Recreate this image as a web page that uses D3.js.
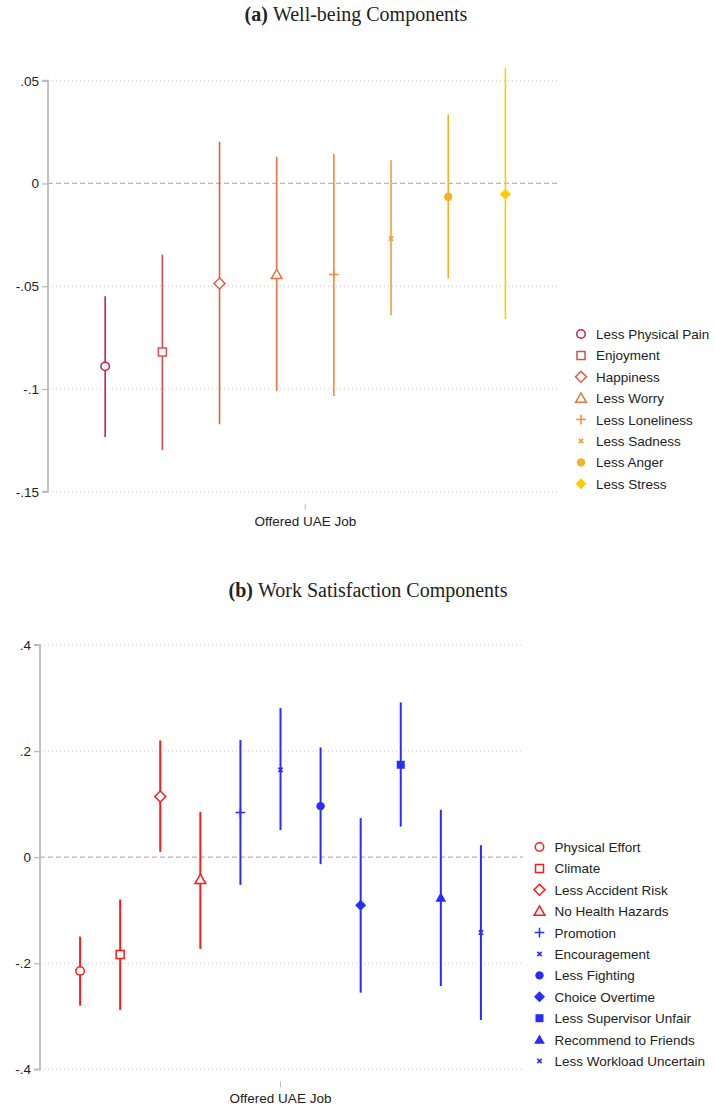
<!DOCTYPE html>
<html>
<head>
<meta charset="utf-8">
<script src="https://cdn.jsdelivr.net/npm/d3@7"></script>
<style>
body { margin: 0; background: #fff; }
svg { display: block; }
.tick-label, .leg, .xlab { font-family: "Liberation Sans", Arial, sans-serif; fill: #222; }
.title { font-family: "Liberation Serif", "DejaVu Serif", serif; fill: #222; }
</style>
</head>
<body>
<svg id="chart"></svg>
<script>
// panel a: well-being components
var catsA = ["Less Physical Pain", "Enjoyment", "Happiness", "Less Worry",
             "Less Loneliness", "Less Sadness", "Less Anger", "Less Stress"];
var estA = [-0.089, -0.082, -0.0487, -0.0443, -0.0443, -0.0268, -0.0065, -0.0052];
var loA  = [-0.1234, -0.1298, -0.1172, -0.101, -0.1034, -0.0641, -0.0463, -0.066];
var hiA  = [-0.0549, -0.0346, 0.0203, 0.013, 0.0143, 0.0113, 0.0336, 0.056];
var ticksA = [-0.15, -0.1, -0.05, 0, 0.05];
var tickLabelsA = ["-.15", "-.1", "-.05", "0", ".05"];

// panel b: work satisfaction components
var catsB = ["Physical Effort", "Climate", "Less Accident Risk", "No Health Hazards",
             "Promotion", "Encouragement", "Less Fighting", "Choice Overtime",
             "Less Supervisor Unfair", "Recommend to Friends", "Less Workload Uncertain"];
var estB = [-0.2145, -0.1837, 0.1144, -0.042, 0.084, 0.1647, 0.0962, -0.0906, 0.1742, -0.0762, -0.1422];
var loB  = [-0.28, -0.288, 0.01, -0.173, -0.0523, 0.051, -0.0132, -0.2555, 0.0577, -0.243, -0.307];
var hiB  = [-0.1498, -0.08, 0.22, 0.0855, 0.2208, 0.281, 0.2068, 0.0736, 0.2917, 0.0892, 0.0226];
var ticksB = [-0.4, -0.2, 0, 0.2, 0.4];
var tickLabelsB = ["-.4", "-.2", "0", ".2", ".4"];

var xLabel = "Offered UAE Job";

// styles
var colorsA = ["#c81f4a", "#de4c4c", "#e05e40", "#e8753f", "#ef8b3c", "#f19f3a", "#f6b21e", "#fdcc06"];
var shapesA = ["circle", "square", "diamond", "triangle", "plus", "x", "dot", "fdiamond"];
var colorsB = ["#ff1a1a", "#ff1a1a", "#ff1a1a", "#ff1a1a",
               "#2b2bff", "#2b2bff", "#2b2bff", "#2b2bff", "#2b2bff", "#2b2bff", "#2b2bff"];
var shapesB = ["circle", "square", "diamond", "triangle", "plus", "x", "dot", "fdiamond", "fsquare", "ftriangle", "x"];

var svg = d3.select("#chart").attr("width", 715).attr("height", 1107);

var drawMarker = function(g, shape, color, x, y)
{
    if (shape == "circle") {
        g.append("circle").attr("cx", x).attr("cy", y).attr("r", 4.2)
            .attr("fill", "#fff").attr("stroke", color).attr("stroke-width", 1.5);
    } else if (shape == "dot") {
        g.append("circle").attr("cx", x).attr("cy", y).attr("r", 4.2).attr("fill", color);
    } else if (shape == "square" || shape == "fsquare") {
        g.append("path").attr("d", d3.symbol().type(d3.symbolSquare).size(64)())
            .attr("transform", "translate(" + x + "," + y + ")")
            .attr("fill", shape == "square" ? "#fff" : color)
            .attr("stroke", color).attr("stroke-width", shape == "square" ? 1.5 : 0);
    } else if (shape == "diamond" || shape == "fdiamond") {
        g.append("path").attr("d", d3.symbol().type(d3.symbolSquare).size(60)())
            .attr("transform", "translate(" + x + "," + y + ") rotate(45)")
            .attr("fill", shape == "diamond" ? "#fff" : color)
            .attr("stroke", color).attr("stroke-width", shape == "diamond" ? 1.5 : 0);
    } else if (shape == "triangle" || shape == "ftriangle") {
        g.append("path").attr("d", d3.symbol().type(d3.symbolTriangle).size(50)())
            .attr("transform", "translate(" + x + "," + (y + 1) + ")")
            .attr("fill", shape == "triangle" ? "#fff" : color)
            .attr("stroke", color).attr("stroke-width", shape == "triangle" ? 1.5 : 0);
    } else if (shape == "plus") {
        g.append("path").attr("d", d3.symbol().type(d3.symbolPlus).size(32)())
            .attr("transform", "translate(" + x + "," + y + ")")
            .attr("fill", "none").attr("stroke", color).attr("stroke-width", 1.5);
    } else if (shape == "x") {
        g.append("path").attr("d", d3.symbol().type(d3.symbolTimes).size(14)())
            .attr("transform", "translate(" + x + "," + y + ")")
            .attr("fill", "none").attr("stroke", color).attr("stroke-width", 1.6);
    }
}

var drawPanel = function(p)
{
    var g = svg.append("g");
    var n = p.cats.length;

    var xScale = d3.scaleLinear().domain([0, p.xMax]).range([p.left, p.right]);
    var yScale = d3.scaleLinear().domain(p.yDomain).range([p.bottom, p.top]);

    // title
    var t = g.append("text").attr("class", "title")
        .attr("x", p.titleX).attr("y", p.titleY)
        .attr("text-anchor", "middle").style("font-size", "20px");
    t.append("tspan").attr("font-weight", "bold").text(p.tag + " ");
    t.append("tspan").text(p.title);

    // grid lines
    g.selectAll(".grid").data(p.ticks.filter(function(d){return d != 0;}))
        .enter().append("line")
        .attr("x1", p.left).attr("x2", p.right)
        .attr("y1", function(d){return yScale(d);})
        .attr("y2", function(d){return yScale(d);})
        .attr("stroke", "#c8c8c8").attr("stroke-width", 1)
        .attr("stroke-dasharray", "1,3");

    // zero reference
    g.append("line")
        .attr("x1", p.left).attr("x2", p.right + 2)
        .attr("y1", yScale(0)).attr("y2", yScale(0))
        .attr("stroke", "#dca2c0").attr("stroke-width", 1.3)
        .attr("stroke-dasharray", "5,3");

    // y axis
    var yAxis = d3.axisLeft(yScale).tickValues(p.ticks)
        .tickFormat(function(d, i){return p.tickLabels[i];})
        .tickSize(6).tickPadding(3);
    var ax = g.append("g").attr("transform", "translate(" + p.left + ",0)").call(yAxis);
    ax.select(".domain").attr("stroke", "#bbb").attr("stroke-width", 1.8)
        .attr("d", "M-6," + p.bottom + "H0V" + p.top + "H-6");
    ax.selectAll(".tick line").attr("stroke", "#bbb").attr("stroke-width", 1.3);
    ax.selectAll(".tick text").attr("class", "tick-label")
        .style("font-size", "13.5px").attr("fill", "#222");

    // x tick and label
    var mid = (n + 1) / 2;
    g.append("line")
        .attr("x1", xScale(mid)).attr("x2", xScale(mid))
        .attr("y1", p.bottom + 12).attr("y2", p.bottom + 18)
        .attr("stroke", "#bbb").attr("stroke-width", 1);
    g.append("text").attr("class", "xlab")
        .attr("x", xScale(mid)).attr("y", p.bottom + 34)
        .attr("text-anchor", "middle").style("font-size", "13.5px")
        .text(xLabel);

    // CI lines
    g.selectAll(".ci").data(p.cats).enter().append("line")
        .attr("x1", function(d, i){return xScale(i + 1);})
        .attr("x2", function(d, i){return xScale(i + 1);})
        .attr("y1", function(d, i){return yScale(p.lo[i]);})
        .attr("y2", function(d, i){return yScale(p.hi[i]);})
        .attr("stroke", function(d, i){return p.colors[i];})
        .attr("stroke-width", p.lineW);

    // point estimates
    p.cats.forEach(function(d, i)
    {
        drawMarker(g, p.shapes[i], p.colors[i], xScale(i + 1), yScale(p.est[i]));
    });

    // legend
    p.cats.forEach(function(d, i)
    {
        var ly = p.legY + i * 21.4;
        drawMarker(g, p.shapes[i], p.colors[i], p.legX, ly);
        g.append("text").attr("class", "leg")
            .attr("x", p.legX + 15).attr("y", ly + 5)
            .style("font-size", "13.5px")
            .text(d);
    });
}

drawPanel({
    tag: "(a)", title: "Well-being Components", titleX: 356, titleY: 21,
    cats: catsA, est: estA, lo: loA, hi: hiA, colors: colorsA, shapes: shapesA,
    ticks: ticksA, tickLabels: tickLabelsA,
    yDomain: [-0.15, 0.05], top: 80.7, bottom: 491.7,
    xMax: 8.92, left: 48, right: 558,
    legX: 581, legY: 334, lineW: 1.6
});

drawPanel({
    tag: "(b)", title: "Work Satisfaction Components", titleX: 368, titleY: 597,
    cats: catsB, est: estB, lo: loB, hi: hiB, colors: colorsB, shapes: shapesB,
    ticks: ticksB, tickLabels: tickLabelsB,
    yDomain: [-0.4, 0.4], top: 645, bottom: 1069.3,
    xMax: 12, left: 40, right: 521,
    legX: 539.5, legY: 847, lineW: 2
});
</script>
</body>
</html>
